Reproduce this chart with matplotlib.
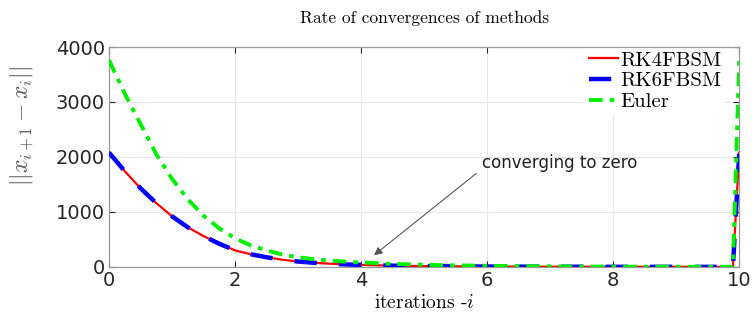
import numpy as np
import matplotlib
matplotlib.use("Agg")
import matplotlib.pyplot as plt

plt.rcParams['mathtext.fontset'] = 'cm'
plt.rcParams['font.family'] = ['DejaVu Sans']

#%% datos
it = [0, 0.25, 0.5, 0.75, 1, 1.25, 1.5, 1.75, 2, 2.25, 2.5, 2.75, 3, 3.25, 3.5, 3.75,
      4, 4.5, 5, 5.5, 6, 6.5, 7, 7.5, 8, 8.5, 9, 9.5, 9.9, 10]
rk4 = [2080, 1740, 1430, 1160, 920, 720, 560, 420, 300, 230, 175, 130, 97, 75, 58, 45,
       36, 22, 14, 9, 6, 4, 3, 2, 1, 1, 1, 0, 0, 2080]
rk6 = [2080, 1740, 1430, 1160, 920, 720, 560, 420, 300, 230, 175, 130, 97, 75, 58, 45,
       36, 22, 14, 9, 6, 4, 3, 2, 1, 1, 1, 0, 0, 2060]
euler = [3760, 3150, 2600, 2050, 1600, 1230, 930, 700, 520, 390, 300, 225, 175, 140, 115, 95,
         80, 55, 38, 27, 19, 13, 9, 6, 4, 3, 2, 1, 1, 3760]
labels = ['RK4FBSM', 'RK6FBSM', 'Euler']

#%% figura
fig = plt.figure(figsize=(7.52, 3.2), dpi=100)
ax = fig.add_axes([0.145, 0.166, 0.838, 0.687])
ax.plot(it, rk4, color='red', lw=1.6, label=labels[0], zorder=3)
ax.plot(it, rk6, color='blue', lw=3.2, dashes=(5, 5), label=labels[1], zorder=3)
ax.plot(it, euler, color='#00ee00', lw=2.8, dashes=(3.5, 1.8, 1.2, 1.8), label=labels[2], zorder=3)

ax.set_xlim(0, 10)
ax.set_ylim(0, 4000)
ax.set_xticks([0, 2, 4, 6, 8, 10])
ax.set_yticks([0, 1000, 2000, 3000, 4000])
ax.grid(True, color='#e6e6e6', lw=0.8)
ax.set_axisbelow(True)
ax.tick_params(direction='in', top=True, right=True, labelsize=14, colors='#262626',
               length=4, width=0.8, pad=3)
for tl in ax.get_xticklabels() + ax.get_yticklabels():
    tl.set_color('#262626')
for s in ax.spines.values():
    s.set_color('#999999')
    s.set_linewidth(0.9)

ax.set_title('Rate of convergences of methods', family='cmr10', fontsize=12.5, pad=17)
ax.set_xlabel(r'iterations -$i$', family='cmr10', fontsize=14, labelpad=3)
ax.set_ylabel(r'$||x_{i+1}-x_i||$', fontsize=17, color='#555555')
ax.yaxis.set_label_coords(-0.118, 0.64)

leg = ax.legend(loc='upper right', bbox_to_anchor=(0.978, 1.0),
                prop={'family': 'cmr10', 'size': 15}, fancybox=False,
                handlelength=1.4, handletextpad=0.1, borderpad=0.2, labelspacing=0.1,
                borderaxespad=0.0, framealpha=1)
leg.get_frame().set_edgecolor('white')
leg.get_frame().set_linewidth(0)
leg.set_zorder(2)

ax.annotate('', xy=(4.17, 180), xytext=(5.86, 1730),
            arrowprops=dict(arrowstyle='-|>', color='#555555', lw=0.8, mutation_scale=12))
ax.text(5.92, 1890, 'converging to zero', fontsize=12, va='center', ha='left', color='#222222')

plt.savefig('out.png', dpi=100)
